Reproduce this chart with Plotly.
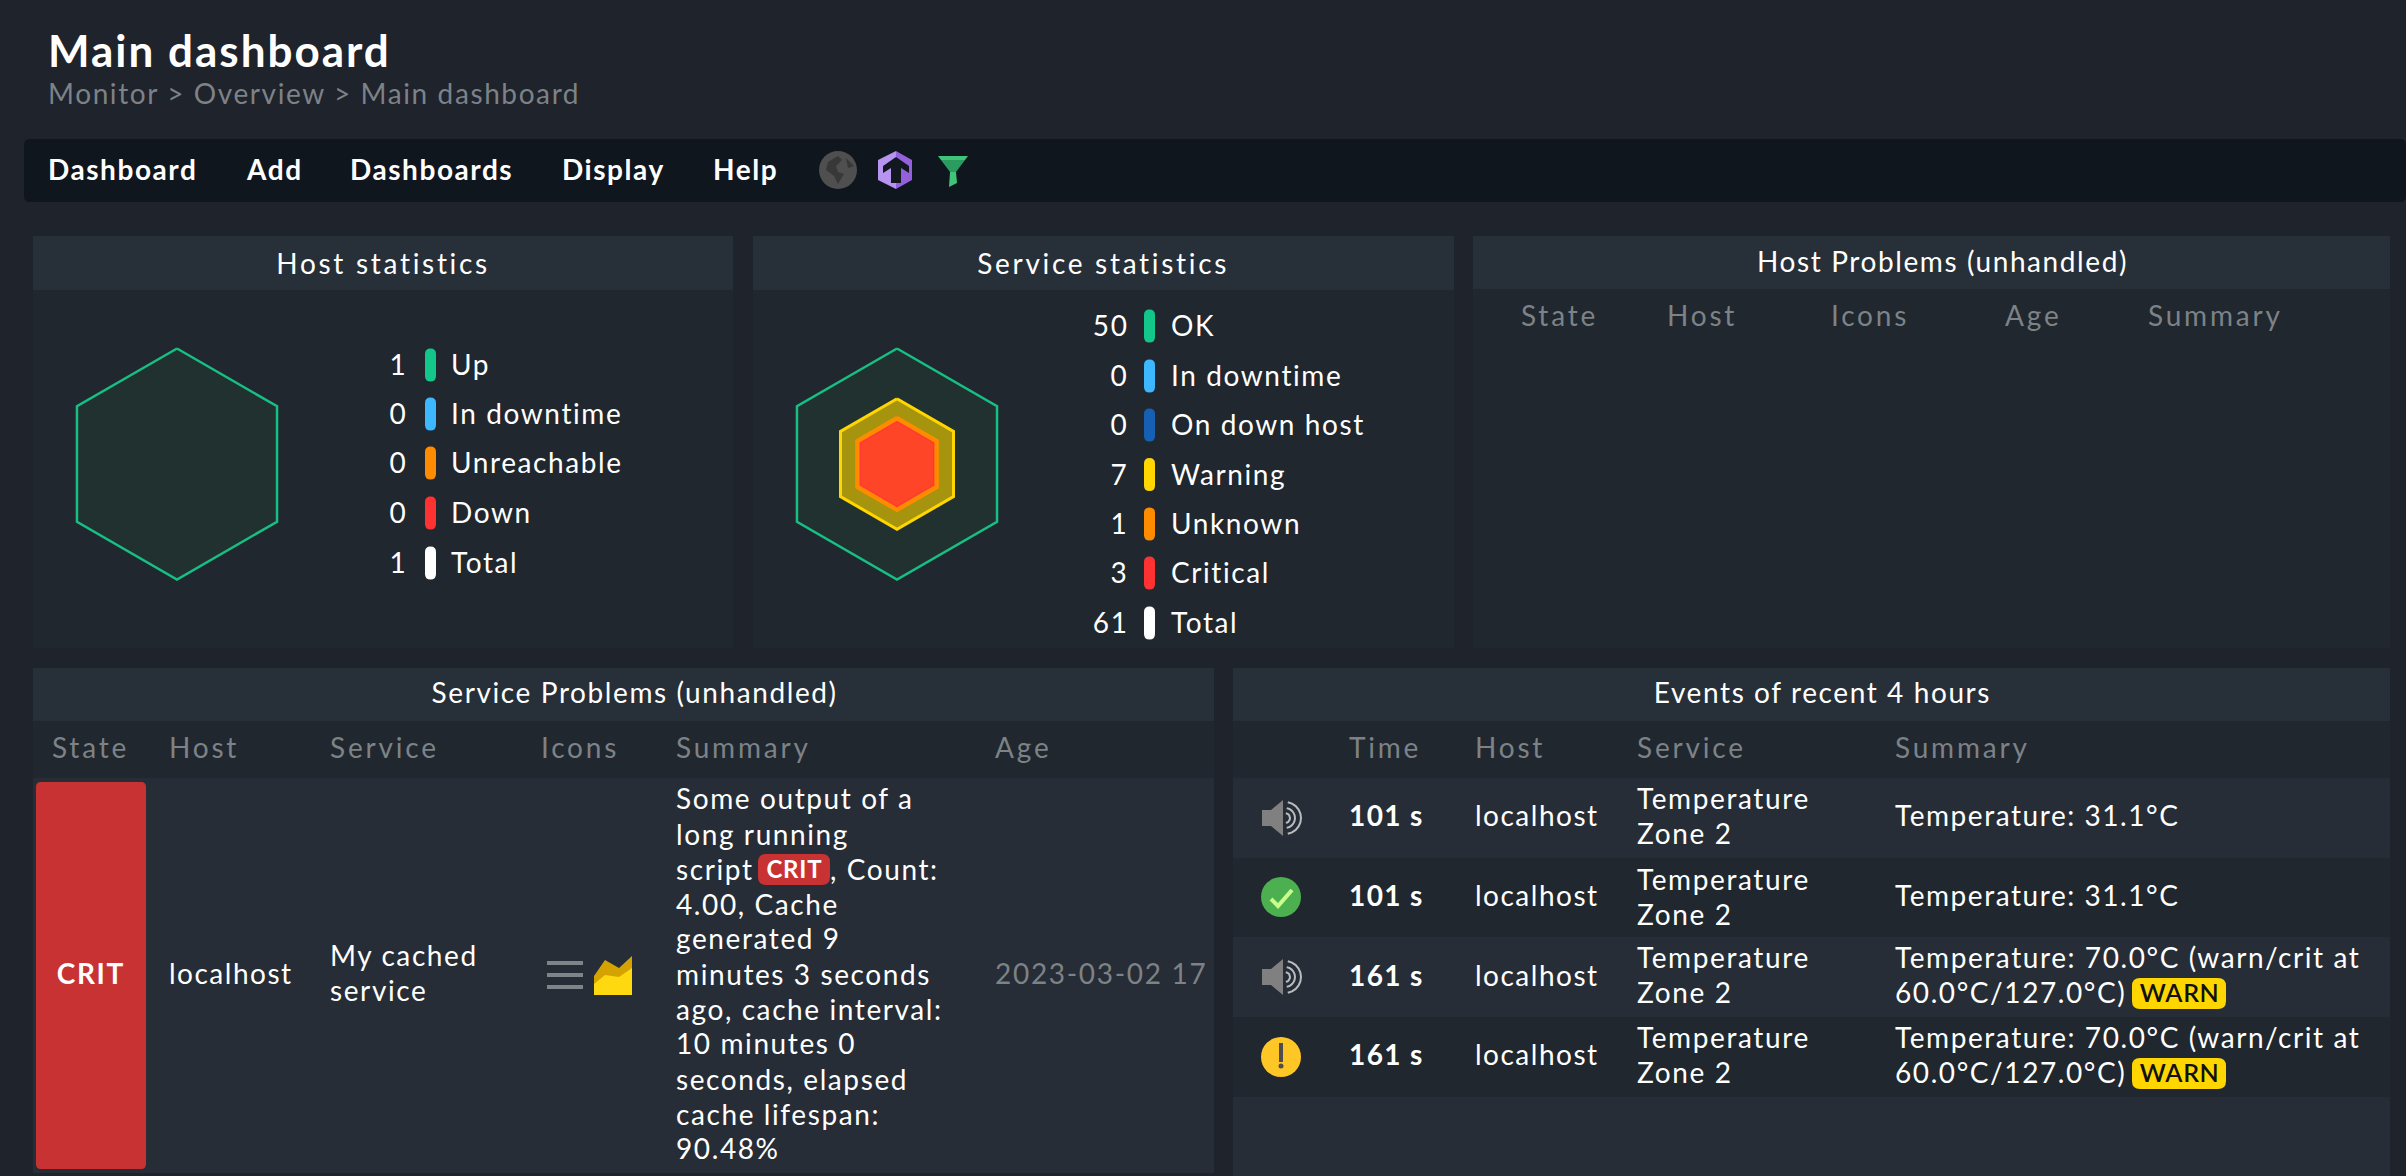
import math
import json
import plotly.graph_objects as go

# ---------- data ----------
page_title = "Main dashboard"
breadcrumb = "Monitor > Overview > Main dashboard"
menu_items = ["Dashboard", "Add", "Dashboards", "Display", "Help"]
host_labels = ["Up", "In downtime", "Unreachable", "Down", "Total"]
host_counts = [1, 0, 0, 0, 1]
service_labels = ["OK", "In downtime", "On down host", "Warning", "Unknown", "Critical", "Total"]
service_counts = [50, 0, 0, 7, 1, 3, 61]
host_problem_cols = ["State", "Host", "Icons", "Age", "Summary"]
service_problem_cols = ["State", "Host", "Service", "Icons", "Summary", "Age"]
service_summary_lines = ["Some output of a", "long running", "script", "4.00, Cache", "generated 9",
                         "minutes 3 seconds", "ago, cache interval:", "10 minutes 0",
                         "seconds, elapsed", "cache lifespan:", "90.48%"]
event_cols = ["Time", "Host", "Service", "Summary"]
event_times = ["101 s", "101 s", "161 s", "161 s"]
event_summaries = [["Temperature: 31.1°C"], ["Temperature: 31.1°C"],
                   ["Temperature: 70.0°C (warn/crit at", "60.0°C/127.0°C)"],
                   ["Temperature: 70.0°C (warn/crit at", "60.0°C/127.0°C)"]]

# ---------- style ----------
FONT = "Lato"
BG, BAR, BODY, HEAD, ROW = "#1e232c", "#0f161d", "#20272e", "#272f38", "#262d36"
WHITE, GREY = "#ffffff", "#7d8287"
host_pills = ["#13c78a", "#3db7ff", "#ff8b00", "#ff3232", "#ffffff"]
service_pills = ["#13c78a", "#3db7ff", "#1560b3", "#ffd600", "#ff8b00", "#ff3232", "#ffffff"]

shapes, annos, traces, spacings = [], [], [], []

def rect(x0, y0, x1, y1, c):
    shapes.append(dict(type="rect", x0=x0, x1=x1, y0=y0, y1=y1, fillcolor=c, line_width=0, layer="below"))

def rrect(x0, y0, x1, y1, r, c):
    p = (f"M{x0+r},{y0} L{x1-r},{y0} Q{x1},{y0} {x1},{y0+r} L{x1},{y1-r} Q{x1},{y1} {x1-r},{y1} "
         f"L{x0+r},{y1} Q{x0},{y1} {x0},{y1-r} L{x0},{y0+r} Q{x0},{y0} {x0+r},{y0} Z")
    shapes.append(dict(type="path", path=p, fillcolor=c, line_width=0, layer="below"))

def poly(pts, c, lc=None, lw=0):
    p = "M" + " L".join(f"{x},{y}" for x, y in pts) + " Z"
    shapes.append(dict(type="path", path=p, fillcolor=c, line=dict(color=lc or c, width=lw), layer="below"))

def circle(cx, cy, r, c):
    shapes.append(dict(type="circle", x0=cx-r, x1=cx+r, y0=cy-r, y1=cy+r, fillcolor=c, line_width=0, layer="below"))

def text(x, y, s, size=28, color=WHITE, anchor="left", weight=400, sp=1.6):
    dx = -1.5 if anchor == "left" else 0
    annos.append(dict(x=x + dx, y=y - 2, text=s, showarrow=False, xanchor=anchor, yanchor="middle", align=anchor,
                      borderpad=0, font=dict(family=FONT, size=size, color=color, weight=weight)))
    spacings.append(sp)

def hexagon(cx, cy, r, fill, line, width):
    xs, ys = [], []
    for k in range(7):
        a = math.radians(60 * k - 90)
        xs.append(cx + r * math.cos(a))
        ys.append(cy + r * math.sin(a))
    traces.append(go.Scatter(x=xs, y=ys, mode="lines", fill="toself", fillcolor=fill,
                             line=dict(color=line, width=width), hoverinfo="skip", showlegend=False))

# header
text(48, 52, page_title, 44, WHITE, weight=700, sp=2.0)
text(48, 95, breadcrumb, 28, GREY, sp=1.6)
rrect(24, 139, 2406, 202, 6, BAR)
for label, x in zip(menu_items, [48, 246, 350, 562, 713]):
    text(x, 171, label, 28, WHITE, weight=700, sp=1.55)

# menu icons
circle(838, 170, 19, "#4f4f4f")
poly([(828, 162), (838, 156), (842, 160), (836, 166), (838, 172), (844, 174), (838, 184), (834, 176), (826, 170)], "#383838")
poly([(846, 158), (854, 166), (848, 168)], "#383838")
poly([(896, 151), (912, 160), (912, 180), (896, 189)], "#9460dc")
poly([(896, 151), (878, 160), (878, 180), (896, 189)], "#b794f0")
poly([(896, 157), (909, 166), (909, 173), (901, 168), (901, 183), (891, 183), (891, 168), (883, 173), (883, 166)], "#12181f")
poly([(938, 156), (968, 156), (965, 160), (941, 160)], "#3fc47a")
poly([(941, 160), (965, 160), (956, 172), (950, 172)], "#2c9b60")
poly([(950, 172), (956, 172), (957, 183), (949, 187)], "#3fc47a")

# panels
for x0, x1, y0, y1, y2, title, tx, ty, sp in [
    (33, 733, 236, 290, 648, "Host statistics", 383, 265, 2.7),
    (753, 1454, 236, 290, 648, "Service statistics", 1103, 265, 2.7),
    (1473, 2390, 236, 289, 648, "Host Problems (unhandled)", 1942, 263, 1.6),
    (33, 1214, 668, 721, 1176, "Service Problems (unhandled)", 634, 694, 1.6),
    (1233, 2390, 668, 721, 1176, "Events of recent 4 hours", 1822, 694, 1.6),
]:
    rect(x0, y0, x1, y1, HEAD)
    rect(x0, y1, x1, y2, BODY)
    text(tx, ty, title, 28, WHITE, "center", sp=sp)

# stats legends
for xn, xp, xt, ys, labels, counts, pills in [
    (408, 425, 450, [365, 414, 463, 513, 563], host_labels, host_counts, host_pills),
    (1129, 1144, 1170, [326, 376, 425, 474.6, 524, 573, 623], service_labels, service_counts, service_pills),
]:
    for y, lab, n, c in zip(ys, labels, counts, pills):
        text(xn, y + 1, str(n), 28, WHITE, "right")
        rrect(xp, y - 16.5, xp + 11, y + 16.5, 5.5, c)
        text(xt + 1, y + 1, lab, 28, WHITE)

# hexagons: radius follows the cube root of each state's share
R = 115.5
hexagon(177, 464, R * (host_counts[0] / host_counts[4]) ** (1 / 3), "#20312f", "#17bf84", 2.5)
total = service_counts[6]
warn, unk, crit = service_counts[3], service_counts[4], service_counts[5]
hexagon(897, 464, R, "#20312f", "#17bf84", 2.5)
hexagon(897, 464, R * ((warn + unk + crit) / total) ** (1 / 3), "#a6940f", "#ffd600", 3)
hexagon(897, 464, R * ((unk + crit) / total) ** (1 / 3), "#ff8b00", "#ff8b00", 3)
hexagon(897, 464, R * (crit / total) ** (1 / 3), "#ff4528", "#ff3a33", 1.5)

# host problems header
for lab, x in zip(host_problem_cols, [1521, 1667, 1831, 2005, 2148]):
    text(x, 317, lab, 28, GREY, sp=2.8)

# service problems
rect(33, 778, 1214, 1173, ROW)
rect(33, 1173, 1214, 1176, BG)
for lab, x in zip(service_problem_cols, [52, 169, 330, 541, 676, 995]):
    text(x, 749, lab, 28, GREY, sp=2.8)
rrect(36, 782, 146, 1169, 5, "#c93232")
text(91, 975, "CRIT", 28, WHITE, "center", 700)
text(169, 975, "localhost", 28, sp=1.5)
text(330, 957, "My cached", 28)
text(330, 992, "service", 28)
text(995, 975, "2023-03-02 17", 28, GREY, sp=1.7)
for y in [961, 973, 985]:
    rect(547, y, 583, y + 4, "#7f8488")
poly([(594, 976), (605, 960), (619, 968), (632, 956), (632, 995), (594, 995)], "#d4a300")
poly([(594, 984), (605, 975), (619, 977), (632, 968), (632, 995), (594, 995)], "#ffd910")
for line, y in zip(service_summary_lines, [800, 836, 871, 906, 940, 976, 1011, 1045, 1081, 1116, 1150]):
    text(676, y, line, 28)
rrect(758, 854, 830, 885, 8, "#c93232")
text(794, 870, "CRIT", 24, WHITE, "center", 700, sp=0.8)
text(830, 871, ", Count:", 28)

# events
for lab, x in zip(event_cols, [1349, 1475, 1637, 1895]):
    text(x, 749, lab, 28, GREY, sp=2.8)
row_edges = [778, 858, 937, 1017, 1097]
for i in range(4):
    rect(1233, row_edges[i], 2390, row_edges[i + 1], ROW if i % 2 == 0 else BODY)
rect(1233, 1097, 2390, 1176, ROW)
for i, (t, summ) in enumerate(zip(event_times, event_summaries)):
    yc = [817, 897, 977, 1056][i]
    text(1349, yc, t, 28, WHITE, weight=700, sp=1.4)
    text(1475, yc, "localhost", 28, sp=1.5)
    y1 = [800, 881, 959, 1039][i]
    text(1637, y1, "Temperature", 28)
    text(1637, y1 + 35, "Zone 2", 28)
    if len(summ) == 1:
        text(1895, yc, summ[0], 28, sp=1.55)
    else:
        text(1895, y1, summ[0], 28, sp=1.58)
        text(1895, y1 + 35, summ[1], 28, sp=1.58)
        by = [0, 0, 978, 1058][i]
        rrect(2132, by, 2226, by + 31, 8, "#ffd600")
        text(2179, by + 16, "WARN", 25, "#111111", "center", 600, sp=0.6)

# event icons
for cy in (818, 977):
    poly([(1262, cy - 8), (1271, cy - 8), (1283, cy - 18), (1283, cy + 18), (1271, cy + 8), (1262, cy + 8)], "#808080")
    for rr, w in [(16, 2), (10, 2), (5, 2)]:
        pts = [(1285 + rr * math.cos(math.radians(a)), cy + rr * math.sin(math.radians(a))) for a in range(-80, 81, 16)]
        traces.append(go.Scatter(x=[p[0] for p in pts], y=[p[1] for p in pts], mode="lines",
                                 line=dict(color="#b9bcbf", width=w), hoverinfo="skip", showlegend=False))
circle(1281, 897, 20, "#4caf50")
traces.append(go.Scatter(x=[1271, 1278, 1292], y=[899, 906, 890], mode="lines",
                         line=dict(color="#c8ff8c", width=4), hoverinfo="skip", showlegend=False))
circle(1281, 1057, 20, "#ffc726")
rect(1279, 1043, 1283, 1062, "#4d4d4d")
circle(1281, 1066, 2.5, "#4d4d4d")

fig = go.Figure(traces)
fig.update_layout(width=2406, height=1176, margin=dict(l=0, r=0, t=0, b=0),
                  paper_bgcolor=BG, plot_bgcolor=BG, showlegend=False,
                  shapes=shapes, annotations=annos, hovermode=False,
                  xaxis=dict(range=[0, 2406], visible=False, fixedrange=True),
                  yaxis=dict(range=[1176, 0], visible=False, fixedrange=True))
post = """
document.body.style.margin='0';document.body.style.background='#1e232c';document.body.style.overflow='hidden';
var sp=%s;
document.querySelectorAll('.annotation').forEach(function(a){
  var i=+a.getAttribute('data-index');var t=a.querySelector('.annotation-text');
  if(t){t.style.letterSpacing=sp[i]+'px';}
});
""" % json.dumps(spacings)
fig.write_html("out.html", post_script=post, config={"displayModeBar": False})
